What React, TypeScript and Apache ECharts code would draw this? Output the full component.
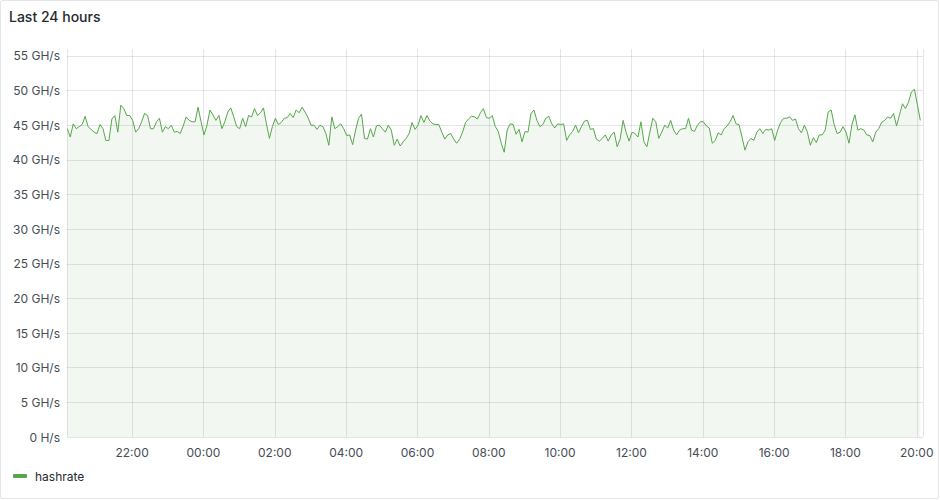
import React, { useEffect, useRef } from "react";
import * as echarts from "echarts";

// Hashrate in GH/s, one value every 5 minutes, split into ~3 hour blocks
const hashrateBlock1 = [44.5, 43.3, 45.2, 44.5, 44.8, 45.1, 46.3, 44.8, 44.4, 44.0, 43.8, 45.1, 44.5, 42.8, 42.8, 45.9, 46.4, 44.0, 47.9, 47.4, 46.4, 46.4, 45.7, 44.0, 44.5, 45.5, 46.7, 46.4, 44.5, 44.5, 45.5, 46.0, 44.0, 44.8, 44.5];
const hashrateBlock2 = [45.0, 44.0, 44.1, 43.8, 44.9, 46.2, 45.7, 45.5, 45.5, 47.6, 45.5, 43.6, 45.0, 47.2, 46.5, 45.7, 46.4, 44.5, 45.5, 46.9, 47.5, 46.2, 44.8, 44.5, 46.0, 44.8, 46.4, 46.2, 47.4, 46.4, 46.8, 47.5, 45.2, 43.1, 44.8];
const hashrateBlock3 = [46.0, 45.1, 45.4, 46.0, 46.1, 46.7, 46.1, 47.2, 46.8, 47.6, 46.9, 46.1, 45.0, 45.0, 44.4, 45.0, 44.8, 43.8, 42.1, 46.2, 44.5, 44.8, 45.2, 44.5, 43.5, 43.6, 42.2, 44.3, 46.0, 46.6, 43.1, 43.0, 44.5, 43.3, 44.9];
const hashrateBlock4 = [45.0, 44.5, 44.0, 45.0, 44.3, 42.1, 43.0, 42.0, 42.6, 43.1, 43.8, 45.4, 44.4, 45.0, 46.4, 45.4, 46.4, 45.6, 45.2, 45.1, 45.1, 44.0, 43.0, 43.6, 43.8, 43.0, 42.4, 43.0, 44.0, 45.4, 45.9, 46.3, 46.2, 45.9, 46.8];
const hashrateBlock5 = [47.4, 46.1, 46.0, 46.4, 44.8, 44.1, 42.4, 41.1, 44.3, 45.2, 45.1, 43.7, 44.4, 42.6, 44.1, 44.0, 46.7, 47.2, 45.7, 44.8, 45.1, 46.0, 46.3, 45.2, 44.6, 45.2, 45.1, 45.2, 42.8, 43.6, 44.1, 45.0, 43.9, 44.8, 45.6];
const hashrateBlock6 = [45.7, 44.4, 44.5, 43.0, 42.7, 43.1, 43.6, 42.7, 43.6, 44.0, 41.9, 43.0, 45.7, 44.0, 42.7, 44.0, 43.8, 43.3, 45.5, 42.6, 41.9, 44.0, 46.0, 45.5, 43.1, 44.0, 45.0, 44.6, 45.7, 44.3, 43.6, 44.3, 44.5, 44.5, 46.0];
const hashrateBlock7 = [44.3, 44.1, 45.0, 45.5, 45.5, 44.9, 44.6, 42.4, 42.8, 43.9, 43.6, 44.5, 44.9, 45.5, 46.4, 45.2, 45.1, 43.3, 41.4, 42.6, 43.1, 42.8, 44.0, 44.5, 43.8, 44.4, 44.3, 44.5, 42.8, 44.3, 45.4, 46.0, 46.0, 46.2, 45.7];
const hashrateBlock8 = [45.9, 44.5, 43.9, 45.0, 44.0, 42.1, 43.2, 42.5, 43.6, 43.6, 44.3, 46.9, 47.2, 45.1, 43.8, 44.0, 44.8, 44.0, 42.4, 45.1, 46.5, 44.3, 44.5, 44.3, 43.6, 43.5, 42.6, 44.0, 44.5, 45.4, 45.7, 46.2, 46.0, 46.7, 44.9, 46.5, 48.1, 47.4, 48.3, 49.8, 50.2, 48.0, 45.7];

const hashrate = [
  ...hashrateBlock1, ...hashrateBlock2, ...hashrateBlock3, ...hashrateBlock4,
  ...hashrateBlock5, ...hashrateBlock6, ...hashrateBlock7, ...hashrateBlock8,
];

const seriesName = "hashrate";
const panelTitle = "Last 24 hours";

// time range (local time)
const firstSample = new Date(2024, 0, 1, 20, 11, 0).getTime();
const sampleStepMs = 5 * 60 * 1000;
const rangeStart = new Date(2024, 0, 1, 20, 10, 30).getTime();
const rangeEnd = rangeStart + 24 * 3600 * 1000;
// ECharts picks 2-hour ticks for an approximate interval between 2h and 3.5h
const approxTickMs = 3 * 3600 * 1000;

const yMin = 0;
const yMax = 56;
const yStep = 5;

const FONT = "Inter, 'Noto Sans', sans-serif";
const GREEN = "#56A64B";
const GRID = "rgba(36,41,46,0.12)";

function fmtRate(v: number) {
  return v === 0 ? "0 H/s" : `${v} GH/s`;
}
function pad2(n: number) {
  return n < 10 ? "0" + n : "" + n;
}
function fmtTime(v: number) {
  const d = new Date(v);
  return `${pad2(d.getHours())}:${pad2(d.getMinutes())}`;
}

export default function App() {
  const ref = useRef<HTMLDivElement>(null);
  useEffect(() => {
    if (!ref.current) return;
    const chart = echarts.init(ref.current, undefined, { renderer: "svg" });
    const data = hashrate.map((v, i) => [firstSample + i * sampleStepMs, v]);
    chart.setOption({
      animation: false,
      textStyle: { fontFamily: FONT },
      title: {
        text: panelTitle,
        left: 9,
        top: 9,
        padding: 0,
        textStyle: { fontFamily: FONT, fontSize: 14, fontWeight: 500, color: "#24292e" },
      },
      legend: {
        left: 13,
        top: 470,
        padding: 0,
        icon: "roundRect",
        itemWidth: 14,
        itemHeight: 4,
        data: [seriesName],
        textStyle: { fontFamily: FONT, fontSize: 12, color: "#24292e", padding: [0, 0, 0, 3] },
      },
      grid: { left: 67, right: 17, top: 49, bottom: 63, containLabel: false, outerBoundsMode: "none" },
      xAxis: {
        type: "time",
        min: rangeStart,
        max: rangeEnd,
        minInterval: approxTickMs,
        maxInterval: approxTickMs,
        axisLine: { show: false },
        axisTick: { show: false },
        splitLine: { show: true, lineStyle: { color: GRID, width: 1 } },
        axisLabel: {
          formatter: (v: number) => fmtTime(v),
          fontFamily: FONT,
          fontSize: 12,
          color: "#464c54",
          margin: 9,
          showMinLabel: false,
          showMaxLabel: false,
          hideOverlap: false,
        },
      },
      yAxis: {
        type: "value",
        min: yMin,
        max: yMax,
        interval: yStep,
        axisLine: { show: false },
        axisTick: { show: false },
        splitLine: { show: true, showMaxLine: false, lineStyle: { color: GRID, width: 1 } },
        axisLabel: {
          formatter: (v: number) => fmtRate(v),
          fontFamily: FONT,
          fontSize: 12,
          color: "#464c54",
          margin: 7,
          showMaxLabel: false,
        },
      },
      series: [
        {
          name: seriesName,
          type: "line",
          data,
          showSymbol: false,
          symbol: "none",
          color: GREEN,
          lineStyle: { color: GREEN, width: 1 },
          areaStyle: { color: "rgba(86,166,75,0.11)" },
        },
      ],
    });
    return () => chart.dispose();
  }, []);

  return (
    <div style={{ position: "fixed", left: 0, top: 0, width: 940, height: 500, background: "#fff" }}>
      <div
        style={{
          position: "absolute",
          left: 0,
          top: 0,
          width: 939,
          height: 499,
          boxSizing: "border-box",
          border: "1px solid rgba(36,41,46,0.12)",
          borderRadius: 2,
        }}
      />
      <div ref={ref} style={{ position: "absolute", left: 0, top: 0, width: 940, height: 500 }} />
    </div>
  );
}
